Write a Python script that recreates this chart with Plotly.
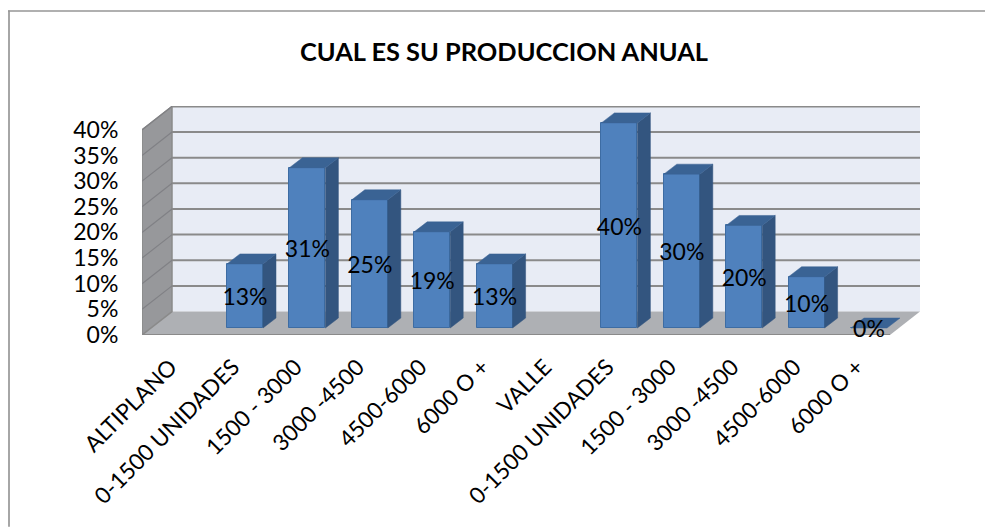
import plotly.graph_objects as go

categories = ["ALTIPLANO", "0-1500 UNIDADES", "1500 - 3000", "3000 -4500", "4500-6000", "6000 O +",
              "VALLE", "0-1500 UNIDADES", "1500 - 3000", "3000 -4500", "4500-6000", "6000 O +"]
values = [None, 12.5, 31.25, 25, 18.75, 12.5, None, 40, 30, 20, 10, 0]
labels = ["", "13%", "31%", "25%", "19%", "13%", "", "40%", "30%", "20%", "10%", "0%"]
y_ticks = [0, 5, 10, 15, 20, 25, 30, 35, 40]
y_labels = ["0%", "5%", "10%", "15%", "20%", "25%", "30%", "35%", "40%"]

FONT = "Lato"
W, H = 985, 527
L, R, T, B = 142, 920, 105.7, 335          # plot rectangle, px
X_PER = 62.4                               # px per category
Y_PER = 5.135                              # px per percent
x_min = -(182.6 - L) / X_PER
x_max = (R - 182.6) / X_PER
y_max = (B - T) / Y_PER

# oblique projection of the box, in axis units
wall_dx, wall_dy = 30 / X_PER, 23.5 / Y_PER
bar_w = 36 / X_PER
bar_base = 7 / Y_PER
depth_dx, depth_dy = 13 / X_PER, 10 / Y_PER
x_front_r = x_max - wall_dx
x_back_l = x_min + wall_dx
y_back0 = wall_dy
label_drop = 3.5 / Y_PER

WALL = "#E8ECF5"
FLOOR = "#AEB0B4"
SIDE_WALL = "#97989B"
GRID = "#8A8A8A"
DIAG = "#808185"
FRONT = "#4F81BD"
EDGE = "#3D6CA3"
TOP = "#3A6394"
SIDE = "#33557F"


def path(pts):
    return "M " + " L ".join(f"{x},{y}" for x, y in pts) + " Z"


shapes = [
    dict(type="path", layer="below", xref="x", yref="y", line_width=0, fillcolor=WALL,
         path=path([(x_back_l, y_back0), (x_max, y_back0), (x_max, y_back0 + 40), (x_back_l, y_back0 + 40)])),
    dict(type="path", layer="below", xref="x", yref="y", line_width=0, fillcolor=FLOOR,
         path=path([(x_min, 0), (x_front_r, 0), (x_max, y_back0), (x_back_l, y_back0)])),
    dict(type="path", layer="below", xref="x", yref="y", line=dict(color=GRID, width=1.5), fillcolor=SIDE_WALL,
         path=path([(x_min, 0), (x_back_l, y_back0), (x_back_l, y_back0 + 40), (x_min, 40)])),
    dict(type="line", layer="below", xref="x", yref="y", x0=x_min, x1=x_front_r, y0=0, y1=0,
         line=dict(color=GRID, width=2)),
]
for t in y_ticks[1:]:
    shapes.append(dict(type="line", layer="below", xref="x", yref="y", x0=x_back_l, x1=x_max,
                       y0=y_back0 + t, y1=y_back0 + t, line=dict(color=GRID, width=2)))
    shapes.append(dict(type="line", layer="below", xref="x", yref="y", x0=x_min, x1=x_back_l,
                       y0=t, y1=y_back0 + t, line=dict(color=DIAG, width=1.2)))

# chart frame (left and top edges)
fx = lambda px: (px - L) / (R - L)
fy = lambda py: (B - py) / (B - T)
shapes.append(dict(type="line", xref="paper", yref="paper", x0=fx(9), x1=fx(9), y0=fy(10), y1=fy(527),
                   line=dict(color="#A6A6A6", width=2)))
shapes.append(dict(type="line", xref="paper", yref="paper", x0=fx(8), x1=fx(985), y0=fy(10.5), y1=fy(10.5),
                   line=dict(color="#969696", width=1.5)))

fig = go.Figure()
xs = list(range(len(categories)))
fig.add_trace(go.Bar(x=xs, y=values, base=bar_base, width=bar_w,
                     marker=dict(color=FRONT, line=dict(color=EDGE, width=1)), showlegend=False))

for i, v in zip(xs, values):
    if v is None:
        continue
    x0, x1 = i - bar_w / 2, i + bar_w / 2
    y0, y1 = bar_base, bar_base + v
    if v > 0:
        fig.add_trace(go.Scatter(
            x=[x1, x1 + depth_dx, x1 + depth_dx, x1, x1], y=[y0, y0 + depth_dy, y1 + depth_dy, y1, y0],
            mode="lines", fill="toself", fillcolor=SIDE, line=dict(color=SIDE, width=0.5),
            showlegend=False, hoverinfo="skip"))
    fig.add_trace(go.Scatter(
        x=[x0, x1, x1 + depth_dx, x0 + depth_dx, x0], y=[y1, y1, y1 + depth_dy, y1 + depth_dy, y1],
        mode="lines", fill="toself", fillcolor=TOP, line=dict(color=TOP, width=0.5),
        showlegend=False, hoverinfo="skip"))

lab_x = [i for i, v in zip(xs, values) if v is not None]
lab_y = [bar_base + v / 2 - label_drop for v in values if v is not None]
lab_t = [t for t, v in zip(labels, values) if v is not None]
fig.add_trace(go.Scatter(x=lab_x, y=lab_y, text=lab_t, mode="text", textposition="middle center",
                         textfont=dict(family=FONT, size=23, color="#000000"), showlegend=False,
                         cliponaxis=False))

fig.update_layout(
    width=W, height=H, autosize=False,
    margin=dict(l=L, r=W - R, t=T, b=H - B, pad=0),
    paper_bgcolor="#FFFFFF", plot_bgcolor="rgba(0,0,0,0)",
    font=dict(family=FONT, color="#000000"),
    title=dict(text="<b>CUAL ES SU PRODUCCION ANUAL</b>", x=504 / W, xanchor="center",
               y=1 - 52 / H, yanchor="middle", font=dict(family=FONT, size=25.4, color="#000000")),
    shapes=shapes, bargap=0,
    xaxis=dict(range=[x_min, x_max], tickmode="array", tickvals=xs, ticktext=categories, tickangle=-45,
               automargin=False, ticklabelshift=-12,
               showgrid=False, zeroline=False, showline=False, ticks="outside", ticklen=9,
               tickcolor="rgba(0,0,0,0)", tickfont=dict(family=FONT, size=22.5, color="#000000")),
    yaxis=dict(range=[0, y_max], tickmode="array", tickvals=y_ticks, ticktext=y_labels,
               automargin=False,
               showgrid=False, zeroline=False, showline=False, ticks="outside", ticklen=18,
               tickcolor="rgba(0,0,0,0)", tickfont=dict(family=FONT, size=23, color="#000000")),
)

fig.write_html("out.html", config={"displayModeBar": False},
               post_script="document.body.style.margin='0';document.documentElement.style.overflow='hidden';")
